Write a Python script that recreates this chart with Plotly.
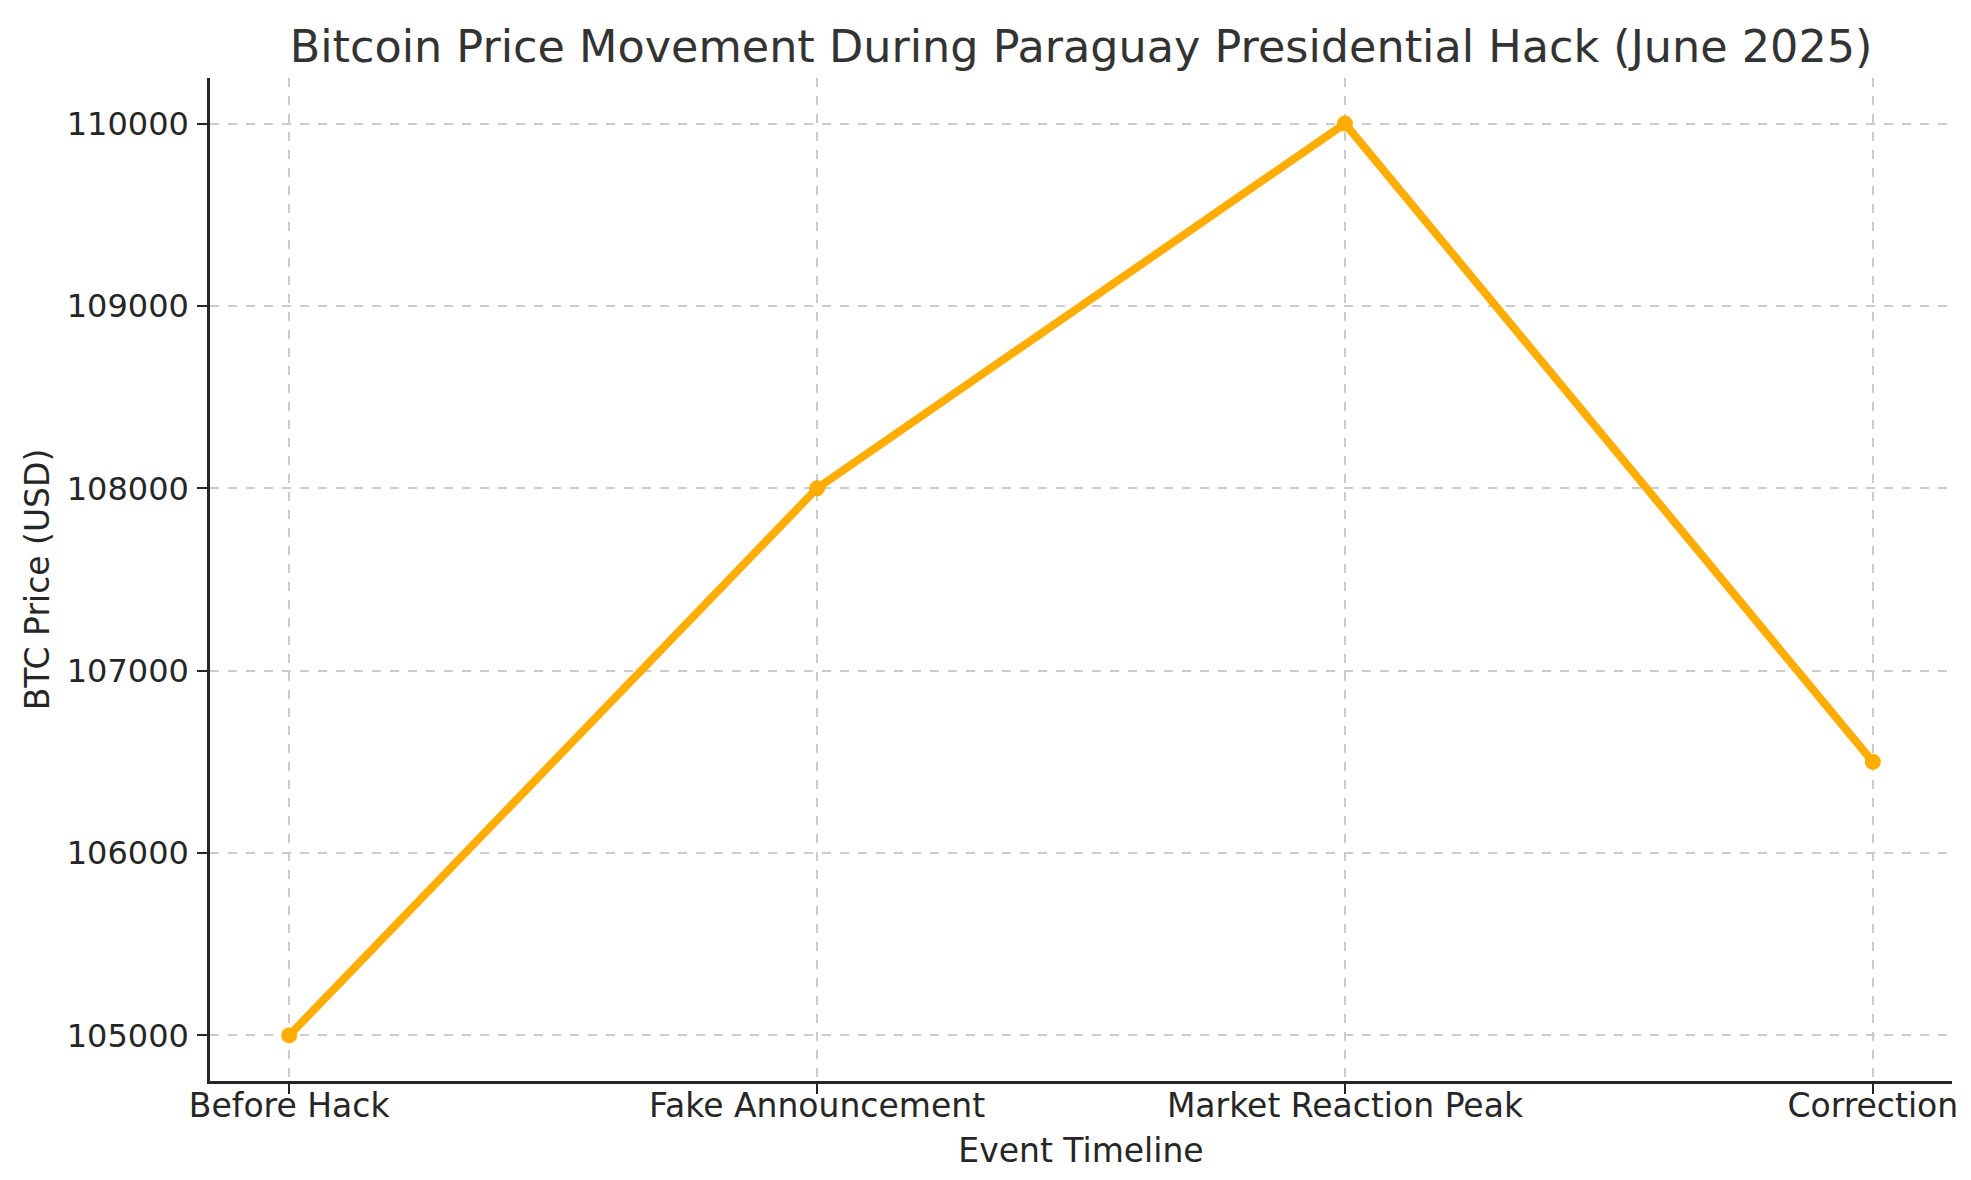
import plotly.graph_objects as go

categories = ["Before Hack", "Fake Announcement", "Market Reaction Peak", "Correction"]
prices = [105000, 108000, 110000, 106500]
y_ticks = [105000, 106000, 107000, 108000, 109000, 110000]

FONT = "DejaVu Sans"
TXT = "#262626"

fig = go.Figure()
fig.add_trace(go.Scatter(
    x=categories, y=prices, mode="lines+markers",
    line=dict(color="#FFAD00", width=8),
    marker=dict(color="#FFAD00", size=16),
    showlegend=False,
))

fig.update_layout(
    width=1971, height=1180,
    margin=dict(l=202, r=27, t=70, b=107),
    paper_bgcolor="white", plot_bgcolor="white",
    font=dict(family=FONT, size=33, color=TXT),
    title=dict(
        text="Bitcoin Price Movement During Paraguay Presidential Hack (June 2025)",
        font=dict(family=FONT, size=44.5, color="#333333"),
        x=(202 + 1944) / 2 / 1971, xanchor="center",
        y=1 - 38 / 1180, yanchor="middle",
    ),
)

fig.update_xaxes(
    type="category", range=[-0.15, 3.15],
    showline=True, linecolor=TXT, linewidth=2.5, mirror=False,
    ticks="outside", ticklen=10, tickwidth=2, tickcolor=TXT,
    ticklabelstandoff=-16,
    showgrid=True, gridcolor="#cccccc", gridwidth=1.5, griddash="dash",
    tickfont=dict(family=FONT, size=33, color=TXT),
    title=dict(text="Event Timeline", font=dict(family=FONT, size=33, color=TXT), standoff=15),
    zeroline=False,
)
fig.update_yaxes(
    range=[104750, 110250], tickvals=y_ticks, ticktext=[str(v) for v in y_ticks],
    showline=True, linecolor=TXT, linewidth=2.5, mirror=False,
    ticks="outside", ticklen=10, tickwidth=2, tickcolor=TXT,
    ticklabelstandoff=2,
    showgrid=True, gridcolor="#cccccc", gridwidth=1.5, griddash="dash",
    tickfont=dict(family=FONT, size=32, color=TXT),
    title=dict(text="BTC Price (USD)", font=dict(family=FONT, size=33, color=TXT), standoff=8),
    zeroline=False,
)

fig.write_html("out.html")
